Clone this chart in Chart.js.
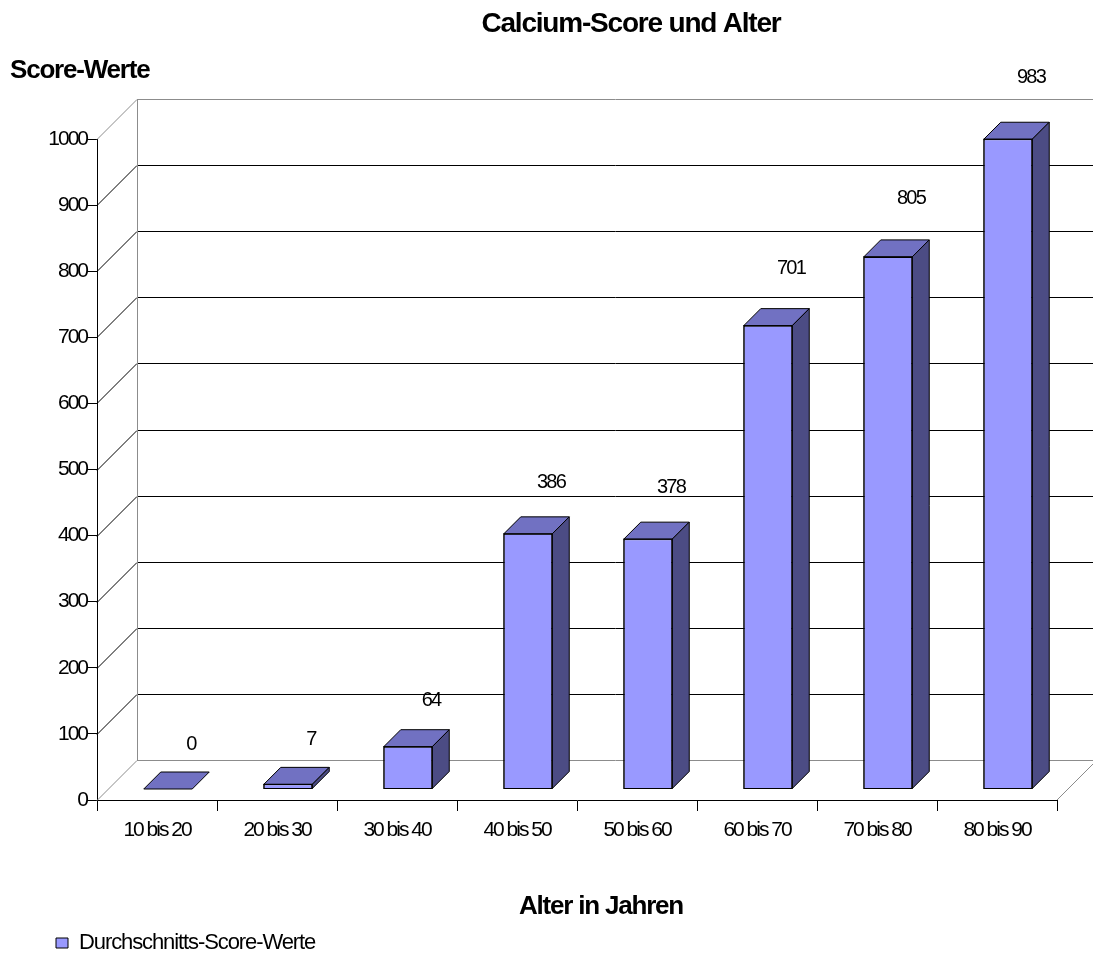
<!DOCTYPE html>
<html lang="de">
<head>
<meta charset="utf-8">
<title>Calcium-Score und Alter</title>
<script src="https://cdn.jsdelivr.net/npm/chart.js@4/dist/chart.umd.min.js"></script>
<style>
  html, body { margin: 0; padding: 0; background: #ffffff; overflow: hidden; }
  canvas { display: block; }
</style>
</head>
<body>
<canvas id="chart" width="1093" height="956"></canvas>
<script>
// Altersgruppen und durchschnittliche Calcium-Score-Werte
const ageGroups = ['10 bis 20', '20 bis 30', '30 bis 40', '40 bis 50', '50 bis 60', '60 bis 70', '70 bis 80', '80 bis 90'];
const averageScores = [0, 7, 64, 386, 378, 701, 805, 983];
const scoreTicks = [0, 100, 200, 300, 400, 500, 600, 700, 800, 900, 1000];
const seriesLabel = 'Durchschnitts-Score-Werte';
const chartTitle = 'Calcium-Score und Alter';
const yAxisTitle = 'Score-Werte';
const xAxisTitle = 'Alter in Jahren';

const FONT = "'Liberation Sans', Arial, Helvetica, sans-serif";
Chart.defaults.font.family = FONT;
Chart.defaults.color = '#000';

// 3D look: depth of the chart walls and of the bars
const WALL_DEPTH = 40;
const BAR_SHIFT = 11;
const BAR_DEPTH = 17;
const COLORS = { front: '#9999ff', top: '#7171c2', side: '#4c4c84', edge: '#000', wallEdge: '#8c8c8c', grid: '#000' };

function line(ctx, x1, y1, x2, y2) {
  ctx.beginPath();
  ctx.moveTo(x1, y1);
  ctx.lineTo(x2, y2);
  ctx.stroke();
}

// condensed text like the original office chart
const tightText = {
  id: 'tightText',
  beforeUpdate(chart) { chart.ctx.letterSpacing = '-2px'; },
  afterLayout(chart) {
    const lg = chart.legend;
    if (lg && !lg.__spaced) {
      const orig = lg.draw;
      lg.draw = function (...args) {
        this.ctx.save();
        this.ctx.letterSpacing = '-1.1px';
        orig.apply(this, args);
        this.ctx.restore();
      };
      lg.__spaced = true;
    }
  },
  beforeDraw(chart) { chart.ctx.letterSpacing = '-2px'; }
};

// back wall, side wall gridlines, floor and 3D bar faces
const depthChart = {
  id: 'depthChart',
  beforeDatasetsDraw(chart) {
    const ctx = chart.ctx;
    const { left, right, bottom } = chart.chartArea;
    const ys = chart.scales.y;
    const D = WALL_DEPTH;
    ctx.save();
    ctx.lineWidth = 1;
    const n = ys.ticks.length;
    ys.ticks.forEach((t, i) => {
      const y = Math.round(ys.getPixelForValue(t.value)) + 0.5;
      const edge = (i === 0 || i === n - 1);
      ctx.strokeStyle = edge ? COLORS.wallEdge : COLORS.grid;
      line(ctx, left, y, left + D, y - D);
      line(ctx, left + D, y - D, right + D + 2, y - D);
    });
    ctx.strokeStyle = COLORS.wallEdge;
    const yTop = Math.round(ys.getPixelForValue(ys.max)) + 0.5 - D;
    const yBot = Math.round(ys.getPixelForValue(ys.min)) + 0.5 - D;
    line(ctx, Math.round(left + D) + 0.5, yTop, Math.round(left + D) + 0.5, yBot);
    line(ctx, right, bottom, right + D, bottom - D);
    ctx.restore();

    // bars stand in the middle of the floor depth
    ctx.save();
    ctx.translate(BAR_SHIFT, -BAR_SHIFT);
  },
  afterDatasetsDraw(chart) {
    const ctx = chart.ctx;
    const meta = chart.getDatasetMeta(0);
    const d = BAR_DEPTH;
    ctx.lineWidth = 1;
    ctx.strokeStyle = COLORS.edge;
    ctx.lineJoin = 'miter';
    meta.data.forEach(bar => {
      const p = bar.getProps(['x', 'y', 'base', 'width'], true);
      const l = p.x - p.width / 2, r = p.x + p.width / 2;
      const top = Math.min(p.y, p.base), base = Math.max(p.y, p.base);
      // top face
      ctx.beginPath();
      ctx.moveTo(l, top);
      ctx.lineTo(l + d, top - d);
      ctx.lineTo(r + d, top - d);
      ctx.lineTo(r, top);
      ctx.closePath();
      ctx.fillStyle = COLORS.top;
      ctx.fill();
      ctx.stroke();
      // side face
      if (base - top > 0) {
        ctx.beginPath();
        ctx.moveTo(r, top);
        ctx.lineTo(r + d, top - d);
        ctx.lineTo(r + d, base - d);
        ctx.lineTo(r, base);
        ctx.closePath();
        ctx.fillStyle = COLORS.side;
        ctx.fill();
        ctx.stroke();
        ctx.strokeRect(l, top, r - l, base - top);
      }
    });
    ctx.restore();

    // value labels above the bars
    const ys = chart.scales.y;
    const zero = ys.getPixelForValue(0);
    ctx.save();
    ctx.font = '20px ' + FONT;
    ctx.letterSpacing = '-1.8px';
    ctx.fillStyle = '#000';
    ctx.textAlign = 'center';
    ctx.textBaseline = 'middle';
    meta.data.forEach((bar, i) => {
      const v = averageScores[i];
      const y = ys.getPixelForValue(v);
      const ly = y - 56 - (zero - y) * 0.026;
      ctx.fillText(String(v), bar.x + 34, ly);
    });
    ctx.restore();
  }
};

// chart heading and axis titles
const headings = {
  id: 'headings',
  afterDraw(chart) {
    const ctx = chart.ctx;
    ctx.save();
    ctx.fillStyle = '#000';
    ctx.textBaseline = 'alphabetic';
    ctx.letterSpacing = '-1.2px';
    ctx.font = 'bold 28px ' + FONT;
    ctx.textAlign = 'center';
    ctx.fillText(chartTitle, 631, 32);
    ctx.font = 'bold 26px ' + FONT;
    ctx.textAlign = 'left';
    ctx.fillText(yAxisTitle, 10, 78);
    ctx.textAlign = 'center';
    ctx.fillText(xAxisTitle, 601, 914);
    ctx.restore();
  }
};

new Chart(document.getElementById('chart'), {
  type: 'bar',
  data: {
    labels: ageGroups,
    datasets: [{
      label: seriesLabel,
      data: averageScores,
      backgroundColor: COLORS.front,
      borderColor: COLORS.edge,
      borderWidth: 1,
      barPercentage: 0.404,
      categoryPercentage: 1,
      clip: false
    }]
  },
  options: {
    responsive: false,
    animation: false,
    events: [],
    layout: { padding: { top: 139, left: 10, right: 36, bottom: 0 } },
    plugins: {
      title: { display: false },
      tooltip: { enabled: false },
      legend: {
        display: true,
        position: 'bottom',
        align: 'start',
        maxHeight: 70,
        labels: {
          boxWidth: 12,
          boxHeight: 10,
          padding: 46,
          color: '#000',
          font: { size: 22 }
        }
      }
    },
    scales: {
      x: {
        grid: { offset: true, drawOnChartArea: false, tickLength: 11, color: '#000' },
        border: { display: true, color: '#000', width: 1 },
        ticks: { color: '#000', font: { size: 21 }, padding: 6.5, maxRotation: 0, autoSkip: false },
        afterFit(scale) { scale.height = 86; }
      },
      y: {
        min: 0,
        max: 1000,
        grid: { drawOnChartArea: false, tickLength: 10, color: '#000' },
        border: { display: true, color: '#000', width: 1 },
        ticks: { color: '#000', font: { size: 21 }, padding: 0, callback: v => String(v) },
        afterBuildTicks(scale) { scale.ticks = scoreTicks.map(v => ({ value: v })); },
        afterFit(scale) { scale.width = 87; }
      }
    }
  },
  plugins: [tightText, depthChart, headings]
});
</script>
</body>
</html>
